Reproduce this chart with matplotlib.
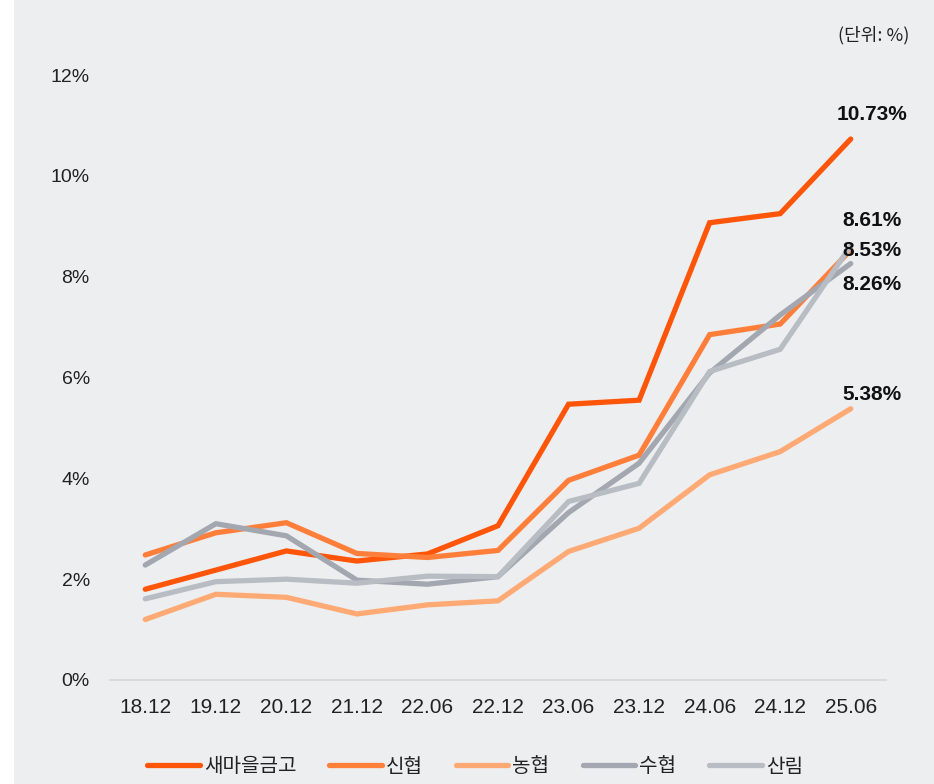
import matplotlib
matplotlib.use("Agg")
import matplotlib.pyplot as plt
from matplotlib.patches import Rectangle
from matplotlib import font_manager

periods = ["18.12", "19.12", "20.12", "21.12", "22.06", "22.12", "23.06", "23.12", "24.06", "24.12", "25.06"]
saemaeul = [1.80, 2.18, 2.56, 2.36, 2.50, 3.06, 5.47, 5.55, 9.07, 9.25, 10.73]
shinhyup = [2.48, 2.92, 3.12, 2.51, 2.43, 2.57, 3.96, 4.46, 6.85, 7.06, 8.53]
nonghyup = [1.20, 1.70, 1.64, 1.31, 1.49, 1.57, 2.55, 3.01, 4.07, 4.53, 5.38]
suhyup = [2.28, 3.10, 2.86, 1.98, 1.90, 2.05, 3.32, 4.30, 6.09, 7.24, 8.26]
sanlim = [1.61, 1.95, 2.00, 1.92, 2.06, 2.05, 3.54, 3.90, 6.12, 6.56, 8.61]
names = ["새마을금고", "신협", "농협", "수협", "산림"]
end_labels = ["10.73%", "8.53%", "5.38%", "8.26%", "8.61%"]
yticks = [0, 2, 4, 6, 8, 10, 12]
ytick_labels = ["0%", "2%", "4%", "6%", "8%", "10%", "12%"]

series = [saemaeul, shinhyup, nonghyup, suhyup, sanlim]
colors = ["#FF5508", "#FF7F3A", "#FFAA74", "#A3A7B0", "#B8BDC4"]
label_pix_y = [115, 251, 395, 284, 221]  # label centers in figure pixels

installed = {f.name for f in font_manager.fontManager.ttflist}
narrow = "Liberation Sans Narrow" if "Liberation Sans Narrow" in installed else "Liberation Sans"

W, H = 934, 784
fig = plt.figure(figsize=(W / 100, H / 100), dpi=100)
fig.patch.set_facecolor("white")
fig.patches.append(Rectangle((14 / W, 0), 1, 1, transform=fig.transFigure,
                             facecolor="#EDEEF0", edgecolor="none", zorder=-10))

ax = fig.add_axes([110 / W, (H - 680) / H, 776 / W, (680 - 75) / H])
ax.set_facecolor("none")
x = list(range(len(periods)))
for s, c, n in zip(series, colors, names):
    ax.plot(x, s, color=c, lw=3.8, label=n, solid_capstyle="round", solid_joinstyle="miter")

ax.set_xlim(-0.5, len(periods) - 0.5)
ax.set_ylim(0, 12)
ax.set_yticks(yticks)
ax.set_yticklabels(ytick_labels, fontsize=14, family="Liberation Sans", color="#222222")
ax.set_xticks(x)
ax.set_xticklabels(periods, fontsize=15, family=narrow, color="#222222")
ax.tick_params(axis="both", length=0)
ax.tick_params(axis="y", pad=14.5)
ax.tick_params(axis="x", pad=13)
for sp in ["top", "right", "left"]:
    ax.spines[sp].set_visible(False)
ax.spines["bottom"].set_color("#D9DADC")
ax.spines["bottom"].set_linewidth(1.5)

for s, lab, py in zip(series, end_labels, label_pix_y):
    fig.text(872 / W, (H - py) / H, lab, ha="center", va="center",
             fontsize=15, fontweight="bold", family="Liberation Sans", color="#111111")

fig.text(874 / W, (H - 35) / H, "(단위: %)", ha="center", va="center",
         fontsize=13, family=["Noto Sans CJK KR", "DejaVu Sans"], color="#222222")

leg = fig.legend(loc="center", bbox_to_anchor=(475 / W, (H - 767) / H), ncol=5, frameon=False,
                 prop={"family": ["Noto Sans CJK KR", "DejaVu Sans"], "size": 14.5},
                 handlelength=2.6, handletextpad=0.2, columnspacing=1.65)
for t in leg.get_texts():
    t.set_color("#222222")

fig.savefig("out.png", dpi=100)
